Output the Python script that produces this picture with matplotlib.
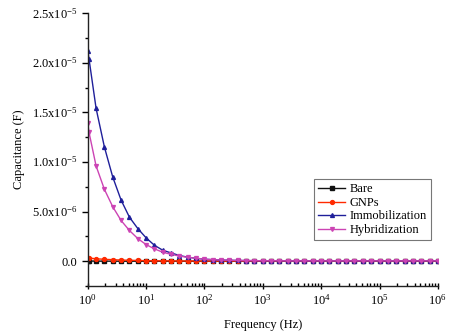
import matplotlib.pyplot as plt
import numpy as np
from matplotlib.ticker import FuncFormatter, LogLocator, MultipleLocator, NullFormatter

plt.rcParams['font.family'] = ['Liberation Serif', 'DejaVu Serif']
plt.rcParams['mathtext.fontset'] = 'stix'

# frequency sweep: 1 Hz start point, then 7 points per decade up to 1 MHz
freq = np.concatenate([[1.0, 1.05], np.logspace(1 / 7, 6, 42)])

# capacitance in units of 1e-5 F
bare = [0.002, 0.002, 0.0015, 0.0012, 0.001, 0.0008, 0.0006, 0.0005, 0.0004, 0.0003,
        0.0003, 0.0002, 0.0002, 0.0002, 0.0001, 0.0001, 0.0001, 0.0001, 0.0001, 0.0001,
        0.0001, 0.0001] + [0.0001] * 22
gnps = [0.036, 0.033, 0.025, 0.020, 0.016, 0.012, 0.010, 0.008, 0.006, 0.005,
        0.004, 0.004, 0.003, 0.003, 0.003, 0.002, 0.002, 0.002, 0.002, 0.002,
        0.002, 0.002] + [0.002] * 22
immob = [2.12, 2.04, 1.54, 1.15, 0.848, 0.616, 0.444, 0.330, 0.236, 0.161,
         0.111, 0.084, 0.058, 0.041, 0.030, 0.021, 0.016, 0.012, 0.010, 0.008,
         0.007, 0.006, 0.005, 0.005, 0.005, 0.004, 0.004, 0.004, 0.004, 0.004,
         0.004, 0.004, 0.004, 0.004, 0.004, 0.004, 0.004, 0.004, 0.004, 0.004,
         0.004, 0.004, 0.004, 0.004]
hybrid = [1.39, 1.30, 0.96, 0.724, 0.549, 0.411, 0.310, 0.229, 0.168, 0.125,
          0.091, 0.070, 0.052, 0.040, 0.030, 0.021, 0.016, 0.012, 0.010, 0.008,
          0.007, 0.006, 0.005, 0.005, 0.005, 0.004, 0.004, 0.004, 0.004, 0.004,
          0.004, 0.004, 0.004, 0.004, 0.004, 0.004, 0.004, 0.004, 0.004, 0.004,
          0.004, 0.004, 0.004, 0.004]

series = [
    ("Bare", bare, "#111111", "s"),
    ("GNPs", gnps, "#ff2a00", "o"),
    ("Immobilization", immob, "#1f1f9a", "^"),
    ("Hybridization", hybrid, "#cc44b4", "v"),
]

fig = plt.figure(figsize=(4.5, 3.35), dpi=100)
ax = fig.add_axes([0.195, 0.146, 0.778, 0.815])

for name, vals, color, marker in series:
    ax.plot(freq, np.array(vals) * 1e-5, color=color, marker=marker, markersize=2.8,
            linewidth=1.0, label=name)

ax.set_xscale("log")
ax.set_xlim(1, 1e6)
ax.set_ylim(-2.5e-6, 2.5e-5)


def ytick(v, pos):
    if abs(v) < 1e-12:
        return "0.0"
    exp = int(np.floor(np.log10(abs(v))))
    mant = v / 10 ** exp
    return r"%.1fx10$^{\mathregular{%d}}$" % (mant, exp)


ax.yaxis.set_major_locator(MultipleLocator(5e-6))
ax.yaxis.set_minor_locator(MultipleLocator(2.5e-6))
ax.yaxis.set_major_formatter(FuncFormatter(ytick))
ax.xaxis.set_major_locator(LogLocator(base=10, numticks=10))
ax.xaxis.set_minor_locator(LogLocator(base=10, subs=np.arange(2, 10), numticks=20))
ax.xaxis.set_minor_formatter(NullFormatter())
ax.xaxis.set_major_formatter(FuncFormatter(lambda v, p: r"10$^{\mathregular{%d}}$" % round(np.log10(v))))

ax.spines["top"].set_visible(False)
ax.spines["right"].set_visible(False)
for s in ("left", "bottom"):
    ax.spines[s].set_linewidth(1.0)
    ax.spines[s].set_color("#222222")

ax.tick_params(axis="y", which="major", direction="out", length=4, width=1, labelsize=9)
ax.tick_params(axis="y", which="minor", direction="out", length=2.5, width=1)
ax.tick_params(axis="x", which="major", direction="inout", length=5, width=1, labelsize=9, pad=3)
ax.tick_params(axis="x", which="minor", direction="in", length=2.5, width=1)

ax.set_xlabel("Frequency (Hz)", fontsize=9, labelpad=7)
ax.set_ylabel("Capacitance (F)", fontsize=9, labelpad=5)

leg = ax.legend(loc="upper right", bbox_to_anchor=(0.98, 0.392), fontsize=9,
                frameon=True, fancybox=False, borderpad=0.35, labelspacing=0.12,
                handlelength=2.2, handletextpad=0.3, borderaxespad=0)
leg.get_frame().set_edgecolor("#555555")
leg.get_frame().set_linewidth(0.8)

fig.savefig("out.png", dpi=100)
